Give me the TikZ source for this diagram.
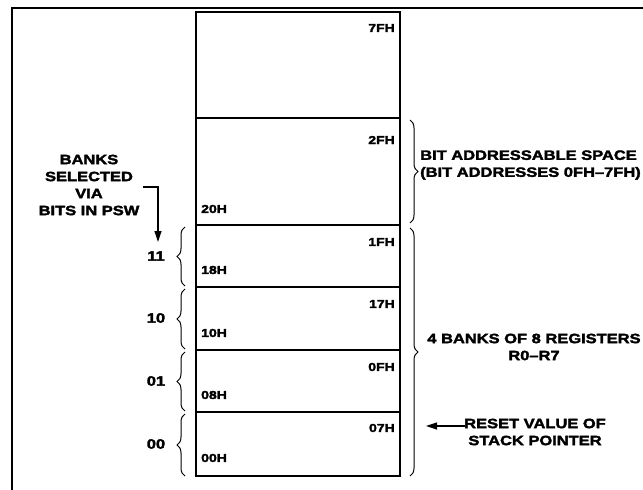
\documentclass[tikz,border=0pt]{standalone}
\usepackage{fontspec}
\setmainfont{Liberation Sans Bold}[FakeStretch=1.22,FakeBold=2.5]
\usetikzlibrary{decorations.pathreplacing,arrows.meta}
\begin{document}
\begin{tikzpicture}[x=1pt,y=-1pt,
  every node/.style={inner sep=0pt,font=\fontsize{13.5}{17}\selectfont},
  mem/.style={draw,line width=1.5pt},
  addr/.style={font=\fontsize{11.5}{13}\selectfont},
  brc/.style={draw,line width=1pt,decorate,decoration={brace,amplitude=8pt}},
  arr/.style={draw,line width=1.2pt,-{Triangle[length=11pt,width=7pt]}}]
\useasboundingbox (0,0) rectangle (643,490);
% outer frame
\draw[line width=1.5pt] (12,490) -- (12,8) -- (643,8);
% memory blocks
\draw[mem] (196,12) rectangle (400,118);
\draw[mem] (196,118) rectangle (400,225);
\draw[mem] (196,225) rectangle (400,287);
\draw[mem] (196,287) rectangle (400,350);
\draw[mem] (196,350) rectangle (400,412);
\draw[mem] (196,412) rectangle (400,476);
% address labels
\node[addr,anchor=east] (a7f) at (395,28) {7FH};
\node[addr,anchor=east] (a2f) at (395,140) {2FH};
\node[addr,anchor=west] (a20) at (201,209) {20H};
\node[addr,anchor=east] (a1f) at (395,242) {1FH};
\node[addr,anchor=west] (a18) at (201,270) {18H};
\node[addr,anchor=east] (a17) at (395,304) {17H};
\node[addr,anchor=west] (a10) at (201,333) {10H};
\node[addr,anchor=east] (a0f) at (395,367) {0FH};
\node[addr,anchor=west] (a08) at (201,395) {08H};
\node[addr,anchor=east] (a07) at (395,428) {07H};
\node[addr,anchor=west] (a00) at (201,458) {00H};
% left labels
\node[align=center] (banks) at (89,185) {BANKS\\SELECTED\\VIA\\BITS IN PSW};
\coordinate (ab) at (143,187);
\coordinate (ac) at (158,187);
\coordinate (at) at (158,242);
\draw[arr] (ab) -- (ac) -- (at);
% bank braces
\draw[brc] (185,286) -- (185,227);
\draw[brc] (185,349) -- (185,289);
\draw[brc] (185,411) -- (185,352);
\draw[brc] (185,476) -- (185,414);
\node (b11) at (156,256) {11};
\node (b10) at (156,318) {10};
\node (b01) at (156,381) {01};
\node (b00) at (156,444) {00};
% right braces
\draw[brc] (410,120) -- (410,223);
\draw[brc] (410,228) -- (410,476);
\node[anchor=west,align=left] (bit) at (420,165) {BIT ADDRESSABLE SPACE\\(BIT ADDRESSES 0FH--7FH)};
\node[align=center] (four) at (534,347) {4 BANKS OF 8 REGISTERS\\R0--R7};
\node[align=center] (reset) at (535,432) {RESET VALUE OF\\STACK POINTER};
\coordinate (rs) at (465,426);
\coordinate (re) at (426,426);
\draw[arr] (rs) -- (re);
\end{tikzpicture}
\end{document}
